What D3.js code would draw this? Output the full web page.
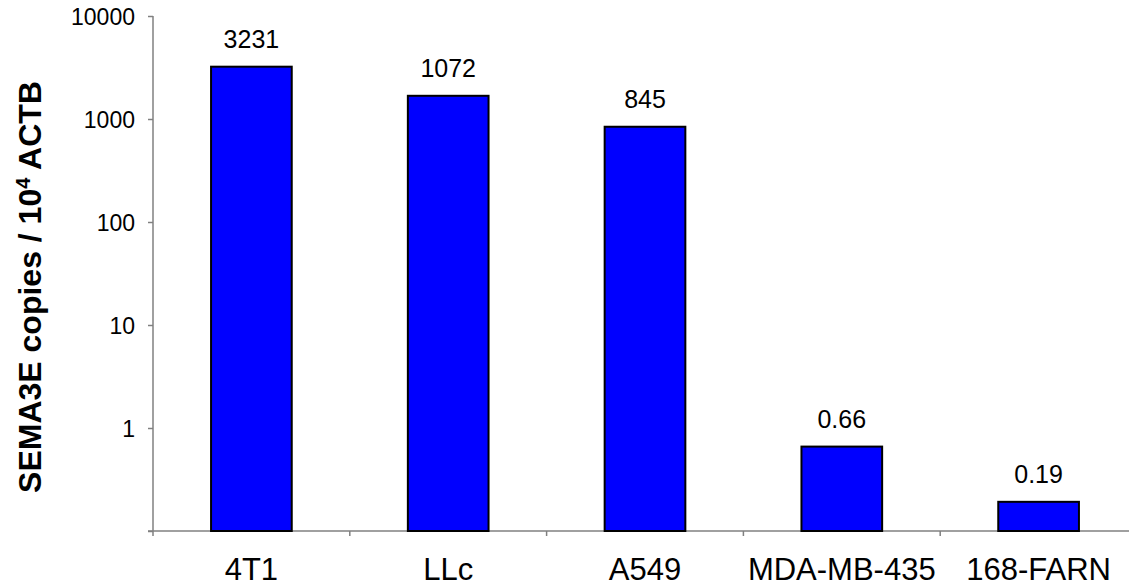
<!DOCTYPE html>
<html>
<head>
<meta charset="utf-8">
<script src="https://cdn.jsdelivr.net/npm/d3@7"></script>
<style>
  body { margin: 0; background: #fff; }
  svg { display: block; font-family: "Liberation Sans", Arial, sans-serif; }
  .axis path, .axis line { stroke: #808080; stroke-width: 1.5; }
</style>
</head>
<body>
<div id="chart"></div>
<script>
// Data
var cellLines = ["4T1", "LLc", "A549", "MDA-MB-435", "168-FARN"];
var barValues = [3220, 1680, 841, 0.66, 0.192];      // bar heights as drawn
var valueLabels = ["3231", "1072", "845", "0.66", "0.19"]; // printed labels
var yTicks = [1, 10, 100, 1000, 10000];

var width = 1129, height = 586;
var plot = { left: 153, right: 1137, top: 16, bottom: 531 };

var svg = d3.select("#chart").append("svg")
    .attr("width", width)
    .attr("height", height);

var x = d3.scaleBand()
    .domain(cellLines)
    .range([plot.left, plot.right]);

var y = d3.scaleLog()
    .domain([0.1, 10000])
    .range([plot.bottom, plot.top]);

var barWidth = x.bandwidth() * 0.41;

// y axis
var yAxis = svg.append("g")
    .attr("class", "axis")
    .attr("transform", "translate(" + plot.left + ",0)")
    .call(d3.axisLeft(y).tickValues(yTicks.concat([0.1])).tickSize(5).tickPadding(13)
        .tickFormat(function(d) { return d < 1 ? "" : d3.format("d")(d); }));
yAxis.select(".domain").attr("d", "M0," + plot.top + "V" + plot.bottom);
yAxis.selectAll("text")
    .attr("fill", "#000")
    .style("font-size", "23px")
    .attr("dy", "0.36em");

// x axis line with ticks at category boundaries
var xAxis = svg.append("g").attr("class", "axis");
xAxis.append("line")
    .attr("x1", plot.left - 5).attr("x2", width)
    .attr("y1", plot.bottom).attr("y2", plot.bottom);
xAxis.selectAll(".xtick")
    .data(cellLines)
    .enter().append("line")
    .attr("class", "xtick")
    .attr("x1", function(d) { return x(d); })
    .attr("x2", function(d) { return x(d); })
    .attr("y1", plot.bottom)
    .attr("y2", plot.bottom + 5);

// bars
svg.append("g")
    .selectAll("rect")
    .data(cellLines)
    .enter().append("rect")
    .attr("x", function(d) { return x(d) + (x.bandwidth() - barWidth) / 2; })
    .attr("y", function(d, i) { return y(barValues[i]); })
    .attr("width", barWidth)
    .attr("height", function(d, i) { return plot.bottom - y(barValues[i]); })
    .attr("fill", "#0000ff")
    .attr("stroke", "#000")
    .attr("stroke-width", 2);

// value labels
svg.append("g")
    .selectAll("text")
    .data(cellLines)
    .enter().append("text")
    .attr("x", function(d) { return x(d) + x.bandwidth() / 2; })
    .attr("y", function(d, i) { return y(barValues[i]) - 19; })
    .attr("text-anchor", "middle")
    .style("font-size", "25px")
    .text(function(d, i) { return valueLabels[i]; });

// category labels
svg.append("g")
    .selectAll("text")
    .data(cellLines)
    .enter().append("text")
    .attr("x", function(d) { return x(d) + x.bandwidth() / 2; })
    .attr("y", 580)
    .attr("text-anchor", "middle")
    .style("font-size", "31px")
    .text(function(d) { return d; });

// y axis title
var title = svg.append("text")
    .attr("transform", "translate(41,287) rotate(-90)")
    .attr("text-anchor", "middle")
    .style("font-size", "32px")
    .style("font-weight", "bold");
title.append("tspan").text("SEMA3E copies / 10");
title.append("tspan").attr("baseline-shift", "super").style("font-size", "20px").text("4");
title.append("tspan").text(" ACTB");
</script>
</body>
</html>
